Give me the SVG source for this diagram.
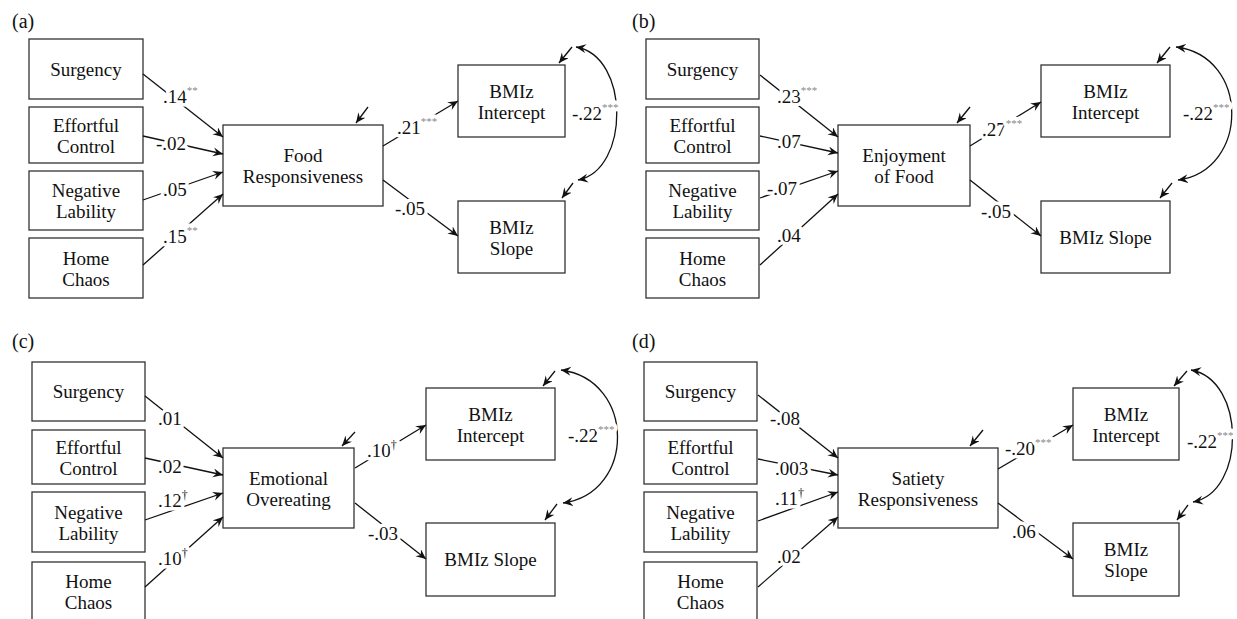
<svg xmlns="http://www.w3.org/2000/svg" width="1237" height="619" viewBox="0 0 1237 619">
<defs>
<marker id="ah" markerWidth="12" markerHeight="10" refX="10" refY="4.5" orient="auto-start-reverse" markerUnits="userSpaceOnUse">
<path d="M0,0 L10,4.5 L0,9 L3.5,4.5 Z" fill="#111"/>
</marker>
<style>
.box{fill:#fff;stroke:#333;stroke-width:1.3}
.t{font-family:"Liberation Serif","Times New Roman",serif;font-size:19px;fill:#111;text-anchor:middle}
.pl{font-family:"Liberation Serif","Times New Roman",serif;font-size:20px;fill:#111}
.lbl{font-family:"Liberation Serif","Times New Roman",serif;font-size:19px;fill:#111;stroke:#fff;stroke-width:7px;stroke-linejoin:round;paint-order:stroke}
.ast{font-size:11px;fill:#888}
.dag{font-size:12px;fill:#111}
.arr{stroke:#111;stroke-width:1.3;fill:none;marker-end:url(#ah)}
.cv{stroke:#111;stroke-width:1.3;fill:none;marker-start:url(#ah);marker-end:url(#ah)}
</style>
</defs>
<rect width="1237" height="619" fill="#fff"/>

<!-- Panel labels -->
<text class="pl" x="12" y="28">(a)</text>
<text class="pl" x="632" y="28">(b)</text>
<text class="pl" x="12" y="348">(c)</text>
<text class="pl" x="632" y="348">(d)</text>

<!-- ===== Panel (a) nodes ===== -->
<g id="a-surgency"><rect class="box" x="29" y="39" width="114" height="60"/><text class="t" x="86" y="76">Surgency</text></g>
<g id="a-effortful"><rect class="box" x="29" y="107" width="114" height="56"/><text class="t" x="86" y="132">Effortful</text><text class="t" x="86" y="153">Control</text></g>
<g id="a-negative"><rect class="box" x="29" y="171" width="114" height="59"/><text class="t" x="86" y="197">Negative</text><text class="t" x="86" y="218">Lability</text></g>
<g id="a-home"><rect class="box" x="29" y="238" width="114" height="60"/><text class="t" x="86" y="265">Home</text><text class="t" x="86" y="286">Chaos</text></g>
<g id="a-mediator"><rect class="box" x="223" y="125" width="160" height="81"/><text class="t" x="303" y="162">Food</text><text class="t" x="303" y="183">Responsiveness</text></g>
<g id="a-intercept"><rect class="box" x="458" y="65" width="107" height="72"/><text class="t" x="511.5" y="98">BMIz</text><text class="t" x="511.5" y="119">Intercept</text></g>
<g id="a-slope"><rect class="box" x="458" y="201" width="107" height="72"/><text class="t" x="511.5" y="234">BMIz</text><text class="t" x="511.5" y="255">Slope</text></g>

<!-- ===== Panel (b) nodes ===== -->
<g id="b-surgency"><rect class="box" x="646" y="39" width="113" height="60"/><text class="t" x="702.5" y="76">Surgency</text></g>
<g id="b-effortful"><rect class="box" x="646" y="107" width="113" height="56"/><text class="t" x="702.5" y="132">Effortful</text><text class="t" x="702.5" y="153">Control</text></g>
<g id="b-negative"><rect class="box" x="646" y="171" width="113" height="59"/><text class="t" x="702.5" y="197">Negative</text><text class="t" x="702.5" y="218">Lability</text></g>
<g id="b-home"><rect class="box" x="646" y="238" width="113" height="60"/><text class="t" x="702.5" y="265">Home</text><text class="t" x="702.5" y="286">Chaos</text></g>
<g id="b-mediator"><rect class="box" x="838" y="125" width="132" height="81"/><text class="t" x="904" y="162">Enjoyment</text><text class="t" x="904" y="183">of Food</text></g>
<g id="b-intercept"><rect class="box" x="1041" y="65" width="129" height="72"/><text class="t" x="1105.5" y="98">BMIz</text><text class="t" x="1105.5" y="119">Intercept</text></g>
<g id="b-slope"><rect class="box" x="1041" y="201" width="129" height="72"/><text class="t" x="1105.5" y="244">BMIz Slope</text></g>

<!-- ===== Panel (c) nodes ===== -->
<g id="c-surgency"><rect class="box" x="32" y="362" width="113" height="59"/><text class="t" x="88.5" y="398">Surgency</text></g>
<g id="c-effortful"><rect class="box" x="32" y="430" width="113" height="54"/><text class="t" x="88.5" y="454">Effortful</text><text class="t" x="88.5" y="475">Control</text></g>
<g id="c-negative"><rect class="box" x="32" y="492" width="113" height="60"/><text class="t" x="88.5" y="519">Negative</text><text class="t" x="88.5" y="540">Lability</text></g>
<g id="c-home"><rect class="box" x="32" y="562" width="113" height="62"/><text class="t" x="88.5" y="588">Home</text><text class="t" x="88.5" y="609">Chaos</text></g>
<g id="c-mediator"><rect class="box" x="223" y="448" width="131" height="80"/><text class="t" x="288.5" y="485">Emotional</text><text class="t" x="288.5" y="506">Overeating</text></g>
<g id="c-intercept"><rect class="box" x="426" y="388" width="129" height="72"/><text class="t" x="490.5" y="421">BMIz</text><text class="t" x="490.5" y="442">Intercept</text></g>
<g id="c-slope"><rect class="box" x="426" y="523" width="129" height="73"/><text class="t" x="490.5" y="566">BMIz Slope</text></g>

<!-- ===== Panel (d) nodes ===== -->
<g id="d-surgency"><rect class="box" x="644" y="362" width="113" height="59"/><text class="t" x="700.5" y="398">Surgency</text></g>
<g id="d-effortful"><rect class="box" x="644" y="430" width="113" height="54"/><text class="t" x="700.5" y="454">Effortful</text><text class="t" x="700.5" y="475">Control</text></g>
<g id="d-negative"><rect class="box" x="644" y="492" width="113" height="60"/><text class="t" x="700.5" y="519">Negative</text><text class="t" x="700.5" y="540">Lability</text></g>
<g id="d-home"><rect class="box" x="644" y="562" width="113" height="62"/><text class="t" x="700.5" y="588">Home</text><text class="t" x="700.5" y="609">Chaos</text></g>
<g id="d-mediator"><rect class="box" x="838" y="448" width="160" height="80"/><text class="t" x="918" y="485">Satiety</text><text class="t" x="918" y="506">Responsiveness</text></g>
<g id="d-intercept"><rect class="box" x="1073" y="388" width="106" height="72"/><text class="t" x="1126" y="421">BMIz</text><text class="t" x="1126" y="442">Intercept</text></g>
<g id="d-slope"><rect class="box" x="1073" y="523" width="106" height="73"/><text class="t" x="1126" y="556">BMIz</text><text class="t" x="1126" y="577">Slope</text></g>

<!-- ===== Connectors ===== -->
<g id="connectors">
<!-- (a) -->
<line class="arr" x1="143" y1="74" x2="223" y2="137"/>
<line class="arr" x1="143" y1="136" x2="223" y2="154"/>
<line class="arr" x1="143" y1="200" x2="223" y2="172"/>
<line class="arr" x1="143" y1="265" x2="223" y2="194"/>
<line class="arr" x1="383" y1="146" x2="458" y2="101"/>
<line class="arr" x1="383" y1="180" x2="458" y2="236"/>
<line class="arr" x1="368" y1="107" x2="356" y2="123"/>
<line class="arr" x1="572" y1="47" x2="559" y2="63"/>
<line class="arr" x1="573" y1="183" x2="562" y2="198"/>
<path class="cv" d="M576,47 C630,56 630,170 578,180"/>
<text class="lbl" x="163" y="103">.14<tspan class="ast" dy="-9">**</tspan></text>
<text class="lbl" x="156" y="150">-.02</text>
<text class="lbl" x="163" y="196">.05</text>
<text class="lbl" x="163" y="243">.15<tspan class="ast" dy="-9">**</tspan></text>
<text class="lbl" x="397" y="134">.21<tspan class="ast" dy="-9">***</tspan></text>
<text class="lbl" x="395" y="215">-.05</text>
<text class="lbl" x="572" y="120">-.22<tspan class="ast" dy="-9">***</tspan></text>

<!-- (b) -->
<line class="arr" x1="760" y1="75" x2="838" y2="137"/>
<line class="arr" x1="760" y1="136" x2="838" y2="153"/>
<line class="arr" x1="760" y1="198" x2="838" y2="171"/>
<line class="arr" x1="760" y1="265" x2="838" y2="194"/>
<line class="arr" x1="970" y1="146" x2="1041" y2="102"/>
<line class="arr" x1="970" y1="180" x2="1041" y2="236"/>
<line class="arr" x1="970" y1="107" x2="957" y2="123"/>
<line class="arr" x1="1170" y1="47" x2="1157" y2="63"/>
<line class="arr" x1="1172" y1="183" x2="1160" y2="198"/>
<path class="cv" d="M1176,47 C1250,56 1250,170 1178,180"/>
<text class="lbl" x="777" y="103">.23<tspan class="ast" dy="-9">***</tspan></text>
<text class="lbl" x="777" y="148">.07</text>
<text class="lbl" x="767" y="195">-.07</text>
<text class="lbl" x="777" y="242">.04</text>
<text class="lbl" x="982" y="136">.27<tspan class="ast" dy="-9">***</tspan></text>
<text class="lbl" x="981" y="218">-.05</text>
<text class="lbl" x="1183" y="120">-.22<tspan class="ast" dy="-9">***</tspan></text>

<!-- (c) -->
<line class="arr" x1="145" y1="396" x2="223" y2="458"/>
<line class="arr" x1="145" y1="458" x2="223" y2="475"/>
<line class="arr" x1="145" y1="520" x2="223" y2="493"/>
<line class="arr" x1="145" y1="587" x2="223" y2="517"/>
<line class="arr" x1="355" y1="468" x2="426" y2="425"/>
<line class="arr" x1="355" y1="503" x2="426" y2="559"/>
<line class="arr" x1="355" y1="432" x2="342" y2="446"/>
<line class="arr" x1="555" y1="371" x2="543" y2="386"/>
<line class="arr" x1="557" y1="504" x2="545" y2="520"/>
<path class="cv" d="M561,370 C636,380 636,493 563,503"/>
<text class="lbl" x="158" y="425">.01</text>
<text class="lbl" x="158" y="473">.02</text>
<text class="lbl" x="158" y="507">.12<tspan class="dag" dy="-8">†</tspan></text>
<text class="lbl" x="158" y="565">.10<tspan class="dag" dy="-8">†</tspan></text>
<text class="lbl" x="367" y="457">.10<tspan class="dag" dy="-8">†</tspan></text>
<text class="lbl" x="368" y="540">-.03</text>
<text class="lbl" x="568" y="442">-.22<tspan class="ast" dy="-9">***</tspan></text>

<!-- (d) -->
<line class="arr" x1="758" y1="395" x2="838" y2="458"/>
<line class="arr" x1="758" y1="459" x2="838" y2="475"/>
<line class="arr" x1="758" y1="521" x2="838" y2="492"/>
<line class="arr" x1="758" y1="587" x2="838" y2="517"/>
<line class="arr" x1="998" y1="469" x2="1073" y2="425"/>
<line class="arr" x1="998" y1="503" x2="1073" y2="559"/>
<line class="arr" x1="983" y1="430" x2="970" y2="446"/>
<line class="arr" x1="1187" y1="371" x2="1174" y2="386"/>
<line class="arr" x1="1188" y1="505" x2="1177" y2="520"/>
<path class="cv" d="M1191,370 C1246,380 1246,492 1193,502"/>
<text class="lbl" x="770" y="425">-.08</text>
<text class="lbl" x="775" y="475">.003</text>
<text class="lbl" x="775" y="505">.11<tspan class="dag" dy="-8">†</tspan></text>
<text class="lbl" x="777" y="563">.02</text>
<text class="lbl" x="1005" y="455">-.20<tspan class="ast" dy="-9">***</tspan></text>
<text class="lbl" x="1012" y="538">.06</text>
<text class="lbl" x="1187" y="448">-.22<tspan class="ast" dy="-9">***</tspan></text>
</g>
</svg>
